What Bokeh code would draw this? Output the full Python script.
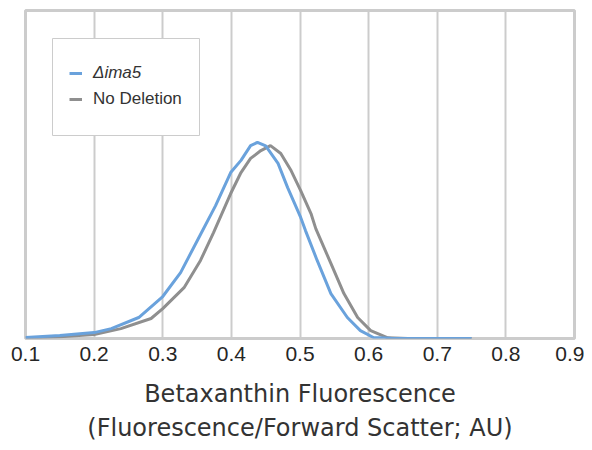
from bokeh.plotting import figure
from bokeh.models import Range1d, FixedTicker, Legend, LegendItem, Title, BoxAnnotation
from bokeh.embed import file_html
from bokeh.resources import INLINE

# Data (density, arbitrary units; y axis hidden)
x_ima5 = [0.10, 0.15, 0.20, 0.225, 0.265, 0.30, 0.326, 0.355, 0.377, 0.399, 0.414,
          0.428, 0.438, 0.450, 0.468, 0.482, 0.501, 0.508, 0.525, 0.545, 0.569,
          0.588, 0.607, 0.632, 0.68, 0.75]
y_ima5 = [0.3, 0.9, 1.8, 3.0, 6.4, 12.8, 20.1, 31.7, 40.5, 50.6, 54.3,
          58.8, 59.8, 58.7, 53.4, 46.0, 36.9, 32.9, 23.8, 13.7, 6.4,
          2.4, 0.3, 0.05, 0.0, 0.0]
x_nodel = [0.10, 0.15, 0.20, 0.239, 0.283, 0.30, 0.331, 0.355, 0.374, 0.399, 0.414,
           0.428, 0.443, 0.457, 0.472, 0.487, 0.501, 0.516, 0.523, 0.545, 0.564,
           0.584, 0.603, 0.628, 0.657, 0.75]
y_nodel = [0.15, 0.5, 1.2, 3.0, 6.1, 9.1, 15.5, 23.8, 32.3, 44.2, 50.6,
           54.9, 57.3, 58.8, 56.4, 51.2, 45.1, 38.1, 33.5, 22.9, 13.7,
           6.4, 2.4, 0.2, 0.0, 0.0]
x_ticks = [0.1, 0.2, 0.3, 0.4, 0.5, 0.6, 0.7, 0.8, 0.9]
label_ima5 = "\u0394ima5"
label_nodel = "No Deletion"
title_line1 = "Betaxanthin Fluorescence"
title_line2 = "(Fluorescence/Forward Scatter; AU)"

FONT = "Liberation Sans"
TITLE_FONT = "DejaVu Sans"
BLUE = "#6aa2dc"
GRAY = "#8f8f8f"
GRID = "#cccccc"

p = figure(width=584, height=442, output_backend="svg", toolbar_location=None,
           x_range=Range1d(0.1, 0.9), y_range=Range1d(0, 100),
           min_border_left=25, min_border_right=10, min_border_top=10,
           min_border_bottom=104)
p.background_fill_color = "white"
p.border_fill_color = "white"
p.outline_line_color = GRID
p.outline_line_width = 3

r_nodel = p.line(x_nodel, y_nodel, line_color=GRAY, line_width=3)
r_ima5 = p.line(x_ima5, y_ima5, line_color=BLUE, line_width=3)

p.yaxis.visible = False
p.ygrid.visible = False
p.xgrid.ticker = FixedTicker(ticks=x_ticks)
p.xgrid.grid_line_color = GRID
p.xgrid.grid_line_width = 2

ax = p.xaxis[0]
ax.ticker = FixedTicker(ticks=x_ticks)
ax.axis_line_color = None
ax.major_tick_line_color = None
ax.minor_tick_line_color = None
ax.major_tick_out = 0
ax.major_label_standoff = 8
ax.major_label_text_font = FONT
ax.major_label_text_font_size = "21px"
ax.major_label_text_color = "#262626"
# tiny blank axis label used only as a spacer before the two-line title
ax.axis_label = " "
ax.axis_label_text_font_size = "1px"
ax.axis_label_standoff = 7

# Axis title, two centred lines below the tick labels
for txt, st in ((title_line1, 7), (title_line2, 0)):
    p.add_layout(Title(text=txt, align="center", offset=-3, standoff=st,
                       text_font=TITLE_FONT, text_font_size="24px",
                       text_font_style="normal", text_color="#333333"), "below")

# Legend frame
p.add_layout(BoxAnnotation(left=27, right=174, bottom=203, top=300,
                           left_units="screen", right_units="screen",
                           bottom_units="screen", top_units="screen",
                           fill_color="white", fill_alpha=1.0,
                           line_color=GRID, line_width=1, line_alpha=1.0))

common = dict(margin=0, padding=0, spacing=0, label_height=26, glyph_width=13,
              glyph_height=26, label_standoff=11, label_text_font=FONT,
              label_text_font_size="17px", label_text_color="#333333",
              border_line_color=None, background_fill_alpha=0.0)
leg_a = Legend(items=[LegendItem(label=label_ima5, renderers=[r_ima5])],
               location=(44, 252), label_text_font_style="italic", **common)
leg_b = Legend(items=[LegendItem(label=label_nodel, renderers=[r_nodel])],
               location=(44, 226), **common)
p.add_layout(leg_a, "center")
p.add_layout(leg_b, "center")

open("out.html", "w").write(file_html(p, INLINE))
